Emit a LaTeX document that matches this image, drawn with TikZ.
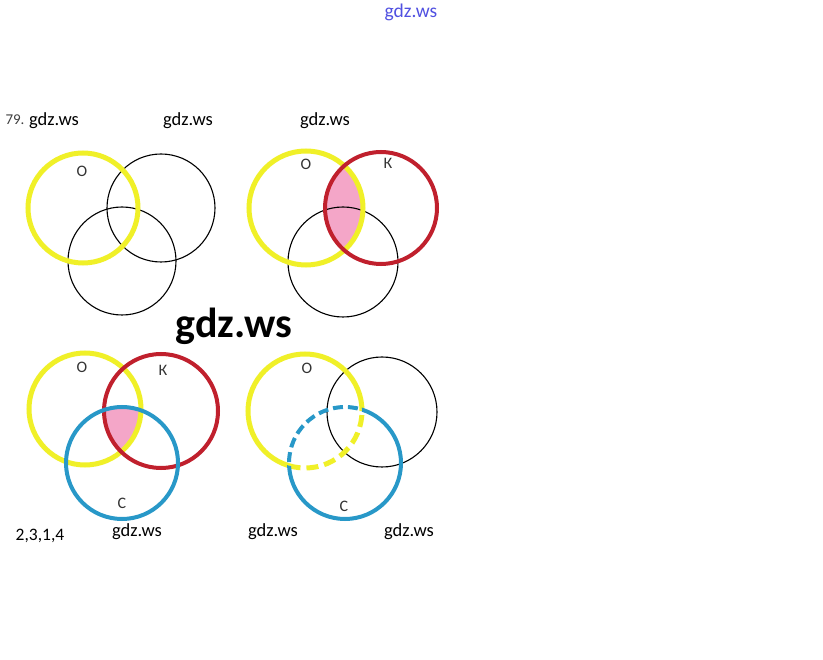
\documentclass[tikz,border=0pt]{standalone}
\usepackage{fontspec}
\setmainfont{Carlito}
\begin{document}
\begin{tikzpicture}[x=1pt,y=-1pt,
  ycirc/.style={draw=yelc,line width=5pt},
  rcirc/.style={draw=redc,line width=4pt},
  bcirc/.style={draw=bluc,line width=4pt},
  kcirc/.style={draw=black,line width=1.1pt},
  lbl/.style={font=\fontsize{16}{18}\selectfont,text=black!80,inner sep=0pt},
  wm/.style={font=\fontsize{18.5}{21}\selectfont,inner sep=0pt},
]
\definecolor{yelc}{RGB}{240,240,40}
\definecolor{redc}{RGB}{192,32,45}
\definecolor{bluc}{RGB}{40,152,200}
\definecolor{pinkc}{RGB}{244,166,200}
\definecolor{wmblue}{RGB}{80,80,225}
\useasboundingbox (0,0) rectangle (823,660);
\fill[white] (0,0) rectangle (823,660);

% texts
\node[font=\fontsize{19.5}{22}\selectfont,text=wmblue,inner sep=0pt] (top) at (411,12) {gdz.ws};
\node[font=\fontsize{15}{17}\selectfont,text=black!75,inner sep=0pt] (num) at (15,120) {79.};
\node[wm] (w1) at (54,121) {gdz.ws};
\node[wm] (w2) at (188,121) {gdz.ws};
\node[wm] (w3) at (325,121) {gdz.ws};
\node[font=\fontsize{42}{50}\selectfont\bfseries,inner sep=0pt] (big) at (234,326) {gdz.ws};
\node[wm] (w4) at (137,532) {gdz.ws};
\node[wm] (w5) at (273,532) {gdz.ws};
\node[wm] (w6) at (409,532) {gdz.ws};
\node[font=\fontsize{17.5}{20}\selectfont,inner sep=0pt] (ans) at (40,536) {2,3,1,4};

% panel 1
\coordinate (o1) at (83,208);
\coordinate (a1) at (161,208);
\coordinate (b1) at (122,261);
\draw[kcirc] (a1) circle[radius=54pt];
\draw[kcirc] (b1) circle[radius=54pt];
\draw[ycirc] (o1) circle[radius=55pt];
\node[lbl] (lo1) at (82,171) {О};

% panel 2
\coordinate (o2) at (306,208);
\coordinate (k2) at (381,208);
\coordinate (b2) at (343,262);
\begin{scope}
  \clip (o2) circle[radius=57pt];
  \fill[pinkc] (k2) circle[radius=56pt];
\end{scope}
\draw[kcirc] (b2) circle[radius=55pt];
\draw[ycirc] (o2) circle[radius=57pt];
\draw[rcirc] (k2) circle[radius=56pt];
\node[lbl] (lo2) at (306,164) {О};
\node[lbl] (lk2) at (388,163) {К};

% panel 3
\coordinate (o3) at (85,409);
\coordinate (k3) at (161,411);
\coordinate (c3) at (122,463);
\begin{scope}
  \clip (o3) circle[radius=56pt];
  \clip (c3) circle[radius=56pt];
  \fill[pinkc] (k3) circle[radius=57pt];
\end{scope}
\draw[ycirc] (o3) circle[radius=56pt];
\draw[rcirc] (k3) circle[radius=57pt];
\draw[bcirc] (c3) circle[radius=56pt];
\node[lbl] (lo3) at (82,367) {О};
\node[lbl] (lk3) at (163,370) {К};
\node[lbl] (lc3) at (122,503) {С};

% panel 4
\coordinate (o4) at (305,411);
\coordinate (a4) at (382,412);
\coordinate (c4) at (345,463);
\draw[kcirc] (a4) circle[radius=55pt];
\begin{scope}[even odd rule]
  \clip (0,0) rectangle (823,660) (c4) circle[radius=56pt];
  \draw[ycirc] (o4) circle[radius=57pt];
\end{scope}
\begin{scope}
  \clip (c4) circle[radius=56pt];
  \draw[ycirc,dash pattern=on 12pt off 6pt] (o4) circle[radius=57pt];
\end{scope}
\begin{scope}[even odd rule]
  \clip (0,0) rectangle (823,660) (o4) circle[radius=57pt];
  \draw[bcirc] (c4) circle[radius=56pt];
\end{scope}
\begin{scope}
  \clip (o4) circle[radius=57pt];
  \draw[bcirc,dash pattern=on 10pt off 5pt] (c4) circle[radius=56pt];
\end{scope}
\node[lbl] (lo4) at (307,368) {О};
\node[lbl] (lc4) at (344,506) {С};
\end{tikzpicture}
\end{document}
